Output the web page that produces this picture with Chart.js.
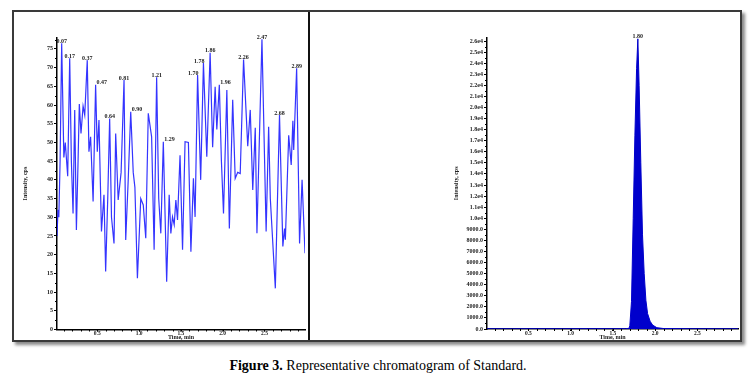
<!DOCTYPE html>
<html>
<head>
<meta charset="utf-8">
<script src="https://cdn.jsdelivr.net/npm/chart.js@4.4.1/dist/chart.umd.min.js"></script>
<style>
  body { margin: 0; background: #fff; width: 756px; height: 376px; position: relative; overflow: hidden; }
  #frame { position: absolute; left: 12px; top: 10px; width: 726px; height: 328px; border: 2px solid #3a3a3a; box-shadow: 3px 3px 3px #8a8a8a; background: #fff; }
  #leftBox { position: absolute; left: 0; top: 0; width: 294px; height: 328px; }
  #rightBox { position: absolute; left: 294px; top: 0; width: 432px; height: 328px; border-left: 2px solid #111; box-sizing: border-box; }
  #caption { position: absolute; left: 0; top: 358px; width: 756px; text-align: center; font: 14px "Liberation Serif", serif; line-height: 16px; color: #000; }
</style>
</head>
<body>
<div id="frame">
  <div id="leftBox"><canvas id="leftChart" width="294" height="328"></canvas></div>
  <div id="rightBox"><canvas id="rightChart" width="430" height="328"></canvas></div>
</div>
<div id="caption"><b>Figure 3.</b> Representative chromatogram of Standard.</div>

<script>
// left panel: noisy trace (time in min, intensity in cps)
const leftTimes = [0.018, 0.03, 0.04, 0.055, 0.074, 0.10, 0.117, 0.146, 0.17, 0.19, 0.21, 0.23, 0.25, 0.27, 0.285,
  0.305, 0.33, 0.35, 0.38, 0.40, 0.42, 0.45, 0.48, 0.50, 0.52, 0.55, 0.58, 0.60, 0.625, 0.648, 0.67, 0.70, 0.72,
  0.75, 0.785, 0.82, 0.84, 0.87, 0.90, 0.93, 0.95, 0.98, 1.02, 1.05, 1.08, 1.11, 1.15, 1.18, 1.21, 1.235, 1.26,
  1.29, 1.33, 1.36, 1.38, 1.40, 1.42, 1.44, 1.46, 1.49, 1.52, 1.55, 1.59, 1.62, 1.65, 1.67, 1.70, 1.737, 1.77,
  1.81, 1.85, 1.88, 1.91, 1.93, 1.96, 1.985, 2.01, 2.05, 2.08, 2.12, 2.15, 2.18, 2.21, 2.25, 2.30, 2.33, 2.36,
  2.39, 2.41, 2.47, 2.52, 2.55, 2.57, 2.63, 2.68, 2.72, 2.74, 2.75, 2.79, 2.82, 2.84, 2.85, 2.885, 2.92, 2.95, 2.985];
const leftValues = [25, 32, 30, 45, 76.5, 46, 50, 41, 72.5, 45, 31, 58.7, 26.6, 45, 60.3,
  52.4, 59.7, 57.3, 72, 47.5, 51.5, 34.2, 65.4, 47.5, 56, 26.2, 36, 15.5, 35, 56.4, 30, 23, 52.4,
  34.6, 42, 66.7, 23.9, 40, 58.2, 42, 38, 13.7, 35, 33.3, 24.4, 57.8, 51.5, 21.3, 67.4, 35, 25.7,
  50.2, 12.8, 36, 25.7, 30.1, 28, 34.6, 29.3, 46.6, 21.3, 50.2, 50, 20.8, 40.4, 30.1, 68, 40, 71.2,
  46.2, 74, 48.7, 64.9, 53.5, 65.4, 45, 31, 64, 27, 61.4, 40.4, 42, 41.7, 72.2, 49, 58.7, 37.3,
  53.9, 25.7, 77.6, 26.2, 54.2, 35, 11, 57.3, 22.2, 27, 24, 51.9, 44, 55.8, 48, 69.8, 23, 40, 20.4];

const leftPeakTimes = [0.074, 0.17, 0.38, 0.48, 0.648, 0.82, 0.90, 1.21, 1.29, 1.70, 1.77, 1.85, 1.96, 2.25, 2.47, 2.68, 2.885];
const leftPeakText = ['0.07', '0.17', '0.37', '0.47', '0.64', '0.81', '0.90', '1.21', '1.29', '1.70', '1.78', '1.86', '1.96', '2.26', '2.47', '2.68', '2.89'];
const leftPeakAlign = ['center', 'center', 'center', 'left', 'center', 'center', 'left', 'center', 'left', 'right', 'right', 'center', 'left', 'center', 'center', 'center', 'center'];

const leftYTicks = [0, 5, 10, 15, 20, 25, 30, 35, 40, 45, 50, 55, 60, 65, 70, 75];
const xTicks = [0.5, 1.0, 1.5, 2.0, 2.5];

// right panel: standard peak
const rightTimes = [0.01, 0.3, 0.6, 0.9, 1.2, 1.5, 1.65, 1.69, 1.70, 1.72, 1.74, 1.76, 1.78, 1.795, 1.81, 1.83,
  1.85, 1.87, 1.89, 1.91, 1.94, 1.97, 2.02, 2.10, 2.40, 2.70, 2.98];
const rightValues = [20, 15, 25, 20, 30, 25, 30, 60, 300, 2500, 10000, 17500, 23500, 26200, 22000, 15000,
  8500, 5000, 2600, 1400, 700, 350, 120, 40, 25, 20, 15];
const rightPeakTimes = [1.795];
const rightPeakText = ['1.80'];
const rightPeakAlign = ['center'];

const rightYTicks = [0, 1000, 2000, 3000, 4000, 5000, 6000, 7000, 8000, 9000, 10000, 11000, 12000, 13000,
  14000, 15000, 16000, 17000, 18000, 19000, 20000, 21000, 22000, 23000, 24000, 25000, 26000];

function heightAt(times, values, t) {
  let best = 0;
  times.forEach((v, i) => { if (Math.abs(v - t) < Math.abs(times[best] - t)) best = i; });
  return values[best];
}

function range(a, b, step) {
  const out = [];
  for (let v = a; v <= b + 1e-9; v += step) out.push(Math.round(v * 1000) / 1000);
  return out;
}

const tickFont = { family: 'Liberation Serif', size: 6, weight: 'bold' };
const ink = '#222';

const peakLabels = {
  id: 'peakLabels',
  afterDatasetsDraw(chart, args, o) {
    const ctx = chart.ctx, xs = chart.scales.x, ys = chart.scales.y;
    ctx.save();
    ctx.font = 'bold 6px "Liberation Serif"';
    ctx.fillStyle = ink;
    ctx.textBaseline = 'bottom';
    o.times.forEach((t, i) => {
      const x = xs.getPixelForValue(t);
      const y = ys.getPixelForValue(o.heights[i]);
      ctx.textAlign = o.align[i];
      const dx = o.align[i] === 'left' ? 1 : (o.align[i] === 'right' ? 1 : 0);
      ctx.fillText(o.text[i], x + dx, y + 1);
    });
    ctx.restore();
  }
};

const minorTicks = {
  id: 'minorTicks',
  afterDraw(chart, args, o) {
    const ctx = chart.ctx, xs = chart.scales.x, ys = chart.scales.y;
    ctx.save();
    ctx.strokeStyle = '#000';
    ctx.lineWidth = 1;
    ctx.beginPath();
    o.x.forEach(v => {
      const px = Math.round(xs.getPixelForValue(v)) + 0.5;
      ctx.moveTo(px, xs.top);
      ctx.lineTo(px, xs.top + 2);
    });
    o.y.forEach(v => {
      const py = Math.round(ys.getPixelForValue(v)) + 0.5;
      ctx.moveTo(ys.right, py);
      ctx.lineTo(ys.right - 2, py);
    });
    ctx.stroke();
    ctx.restore();
  }
};

function makeChart(id, opt) {
  return new Chart(document.getElementById(id), {
    type: 'line',
    data: {
      datasets: [{
        data: opt.times.map((t, i) => ({ x: t, y: opt.values[i] })),
        borderColor: opt.color,
        backgroundColor: opt.color,
        borderWidth: opt.lineWidth,
        fill: opt.fill,
        pointRadius: 0,
        tension: 0
      }]
    },
    options: {
      responsive: false,
      animation: false,
      layout: { padding: { top: 25.7, right: opt.padRight, left: 0, bottom: 0 } },
      plugins: {
        legend: { display: false },
        tooltip: { enabled: false },
        peakLabels: {
          times: opt.peakTimes,
          text: opt.peakText,
          align: opt.peakAlign,
          heights: opt.peakTimes.map(t => heightAt(opt.times, opt.values, t))
        },
        minorTicks: { x: opt.minorX, y: opt.minorY }
      },
      scales: {
        x: {
          type: 'linear',
          min: opt.xMin,
          max: opt.xMax,
          afterFit(s) { s.height = opt.xHeight; },
          afterBuildTicks(s) { s.ticks = xTicks.map(v => ({ value: v })); },
          ticks: { font: { family: 'Liberation Serif', size: 5.5, weight: 'bold' }, color: ink, padding: -1, maxRotation: 0, autoSkip: false, callback: v => v.toFixed(1) },
          grid: { drawOnChartArea: false, tickLength: 2, tickColor: '#000' },
          border: { color: '#000', width: 1.5 },
          title: { display: true, text: 'Time, min', font: tickFont, color: ink, padding: { top: 0, bottom: -1.5 } }
        },
        y: {
          min: 0,
          max: opt.yMax,
          afterFit(s) { s.width = opt.yWidth; },
          afterBuildTicks(s) { s.ticks = opt.yTicks.map(v => ({ value: v })); },
          ticks: { font: tickFont, color: ink, padding: 1, autoSkip: false, callback: opt.yLabel },
          grid: { drawOnChartArea: false, tickLength: 3, tickColor: '#000' },
          border: { color: '#000', width: 1.5 },
          title: { display: true, text: 'Intensity, cps', font: tickFont, color: ink, padding: { top: opt.yTitlePad, bottom: 0 } }
        }
      }
    },
    plugins: [peakLabels, minorTicks]
  });
}

makeChart('leftChart', {
  times: leftTimes, values: leftValues, color: 'rgba(30,30,255,0.9)', lineWidth: 1.2, fill: false,
  peakTimes: leftPeakTimes, peakText: leftPeakText, peakAlign: leftPeakAlign,
  xMin: 0.018, xMax: 2.985, yMax: 78, yTicks: leftYTicks, yLabel: v => String(v),
  minorX: range(0.1, 2.9, 0.1), minorY: range(2.5, 77.5, 5),
  padRight: 3, xHeight: 10.5, yWidth: 43, yTitlePad: 7.4
});

makeChart('rightChart', {
  times: rightTimes, values: rightValues, color: '#0000cc', lineWidth: 1, fill: 'origin',
  peakTimes: rightPeakTimes, peakText: rightPeakText, peakAlign: rightPeakAlign,
  xMin: 0.01, xMax: 2.98, yMax: 26300, yTicks: rightYTicks,
  yLabel: v => v >= 10000 ? (v / 10000).toFixed(1) + 'e4' : v.toFixed(1),
  minorX: range(0.1, 2.9, 0.1), minorY: range(500, 25500, 1000),
  padRight: 2, xHeight: 11, yWidth: 177, yTitlePad: 142.4
});
</script>
</body>
</html>
